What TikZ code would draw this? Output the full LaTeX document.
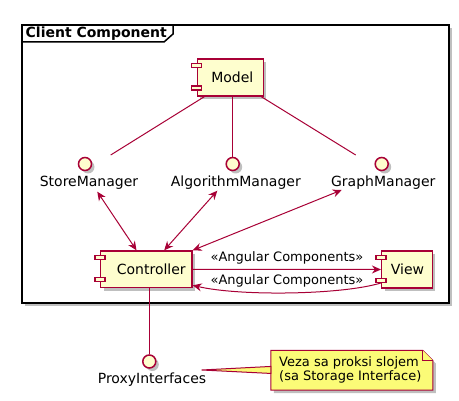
\documentclass[tikz,border=0pt]{standalone}
\usepackage{fontspec}
\setmainfont{DejaVu Sans}
\usetikzlibrary{arrows.meta,shadows,calc}
\definecolor{pred}{HTML}{A80036}
\definecolor{pfill}{HTML}{FEFECE}
\definecolor{pnote}{HTML}{FBFB77}
\tikzset{
  shad/.style={drop shadow={shadow xshift=3pt,shadow yshift=-3pt,fill=black,opacity=0.25}},
  comp/.style={draw=pred,fill=pfill,line width=1.5pt,rectangle,inner sep=0pt,shad,font=\fontsize{14pt}{16pt}\selectfont},
  bar/.style={draw=pred,fill=pfill,line width=1.2pt},
  iface/.style={draw=pred,fill=pfill,line width=1.5pt,circle,minimum size=13pt,inner sep=0pt,shad},
  ilabel/.style={anchor=base,inner sep=0pt,font=\fontsize{14pt}{16pt}\selectfont},
  conn/.style={draw=pred,line width=1pt},
  tip/.style={-{Stealth[length=9pt,width=8pt,inset=3pt]}},
  bitip/.style={{Stealth[length=9pt,width=8pt,inset=3pt]}-{Stealth[length=9pt,width=8pt,inset=3pt]}},
  alabel/.style={anchor=base,inner sep=0pt,font=\fontsize{13pt}{15pt}\selectfont},
  notebox/.style={draw=pred,fill=pnote,line width=1pt},
}
\begin{document}
\begin{tikzpicture}[x=1pt,y=-1pt]
\useasboundingbox (0,0) rectangle (459,401);
% frame
\draw[line width=1.5pt,black,fill=white,shad] (22,25) rectangle (449,303);
\draw[line width=1.5pt,black] (22,42) -- (164,42) -- (173,34) -- (173,25);
\node[anchor=base west,inner sep=0pt,font=\fontsize{14pt}{16pt}\selectfont\bfseries] (title) at (25.5,37.3) {Client Component};
% components
\node[comp,minimum width=66pt,minimum height=37pt] (model) at (230.3,77.3) {\hspace*{4pt}Model};
\node[comp,minimum width=91.3pt,minimum height=36.5pt] (ctrl) at (146.3,269.3) {\hspace*{10pt}Controller};
\node[comp,minimum width=50.6pt,minimum height=37pt] (view) at (407,269.5) {\hspace*{1pt}View};
\foreach \n in {model,ctrl,view}{
  \draw[bar] ($(\n.north west)+(-5,5.5)$) rectangle ($(\n.north west)+(5,9.5)$);
  \draw[bar] ($(\n.south west)+(-5,-10.5)$) rectangle ($(\n.south west)+(5,-6.5)$);
}
% interfaces
\node[iface] (sm) at (85,164) {};
\node[iface] (am) at (232.7,164) {};
\node[iface] (gm) at (381.7,164) {};
\node[iface] (px) at (149.3,361.5) {};
\node[ilabel] (sml) at (89,186.7) {StoreManager};
\node[ilabel] (aml) at (235.8,186.7) {AlgorithmManager};
\node[ilabel] (gml) at (383.3,186.7) {GraphManager};
\node[ilabel] (pxl) at (152,383.3) {ProxyInterfaces};
% endpoints
\coordinate (smt) at (110.7,155);
\coordinate (gmt) at (355.7,155);
\coordinate (smb) at (97.3,191.7);
\coordinate (amb) at (217.3,190.7);
\coordinate (gmb) at (341.7,190);
% model links
\draw[conn] ($(model.south west)+(8,0)$) -- (smt);
\draw[conn] ($(model.south)+(2.4,0)$) -- (am.north);
\draw[conn] ($(model.south east)+(-3,0)$) -- (gmt);
% interface arrows
\draw[conn,bitip] (smb) -- ($(ctrl.north west)+(36.6,0)$);
\draw[conn,bitip] (amb) -- ($(ctrl.north west)+(64.3,0)$);
\draw[conn,bitip] (gmb) -- (ctrl.north east);
% controller <-> view
\draw[conn,tip] (ctrl.east) -- (view.west);
\node[alabel] (l1) at (287,262) {«Angular Components»};
\draw[conn,tip] ($(view.west)+(0,13.5)$) .. controls +(-40,12) and +(47,11) .. ($(ctrl.east)+(0,16)$);
\node[alabel] (l2) at (287,284.5) {«Angular Components»};
% proxy
\draw[conn] (ctrl.south -| px) -- (px.north);
% note
\node[inner sep=0pt,minimum width=161.7pt,minimum height=39.3pt] (note) at (351.8,370.3) {};
\draw[notebox,shad] (note.south west) -- (note.north west) -- ($(note.north east)+(-10,0)$) -- ($(note.north east)+(0,10)$) -- (note.south east) -- cycle;
\draw[notebox] ($(note.north east)+(-10,0)$) -- ($(note.north east)+(-10,10)$) -- ($(note.north east)+(0,10)$);
\draw[notebox] (201.7,370) -- ($(note.north west)+(0,16)$) -- ($(note.north west)+(0,23)$) -- cycle;
\node[alabel,anchor=base west] (n1) at (279,366.7) {Veza sa proksi slojem};
\node[alabel,anchor=base west] (n2) at (279,381) {(sa Storage Interface)};
\end{tikzpicture}
\end{document}
